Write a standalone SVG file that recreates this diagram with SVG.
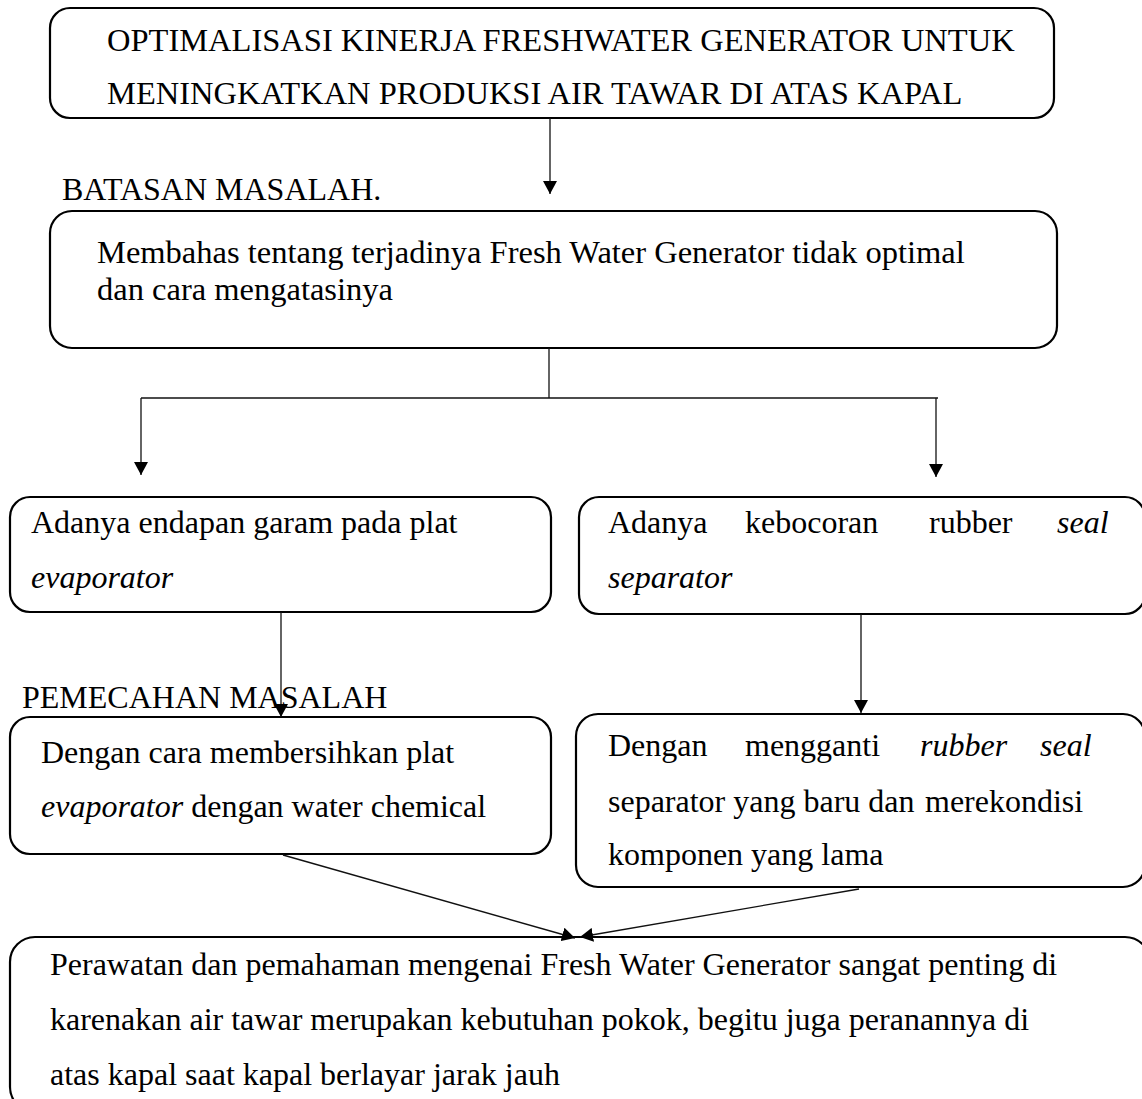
<svg xmlns="http://www.w3.org/2000/svg" width="1142" height="1099" viewBox="0 0 1142 1099">
<style>
.box{fill:#fff;stroke:#000;stroke-width:2.2}
.t{font-family:"Liberation Serif","Times New Roman",serif;font-size:32px;fill:#000}
.b{font-size:32.5px}
.i{font-style:italic}
.c{stroke:#111;stroke-width:1.3;fill:none}
</style>
<defs>
<marker id="ah" markerUnits="userSpaceOnUse" markerWidth="13" markerHeight="14" refX="13" refY="7" orient="auto">
<path d="M0,0 L13,7 L0,14 z" fill="#000"/>
</marker>
</defs>
<rect width="1142" height="1099" fill="#fff"/>
<g id="n1">
<rect class="box" x="50" y="8" width="1004" height="110" rx="20"/>
<text class="t b" x="107" y="51">OPTIMALISASI KINERJA FRESHWATER GENERATOR UNTUK</text>
<text class="t b" x="107" y="104">MENINGKATKAN PRODUKSI AIR TAWAR DI ATAS KAPAL</text>
</g>
<g id="lbl1"><text class="t" x="62" y="200">BATASAN MASALAH.</text></g>
<g id="n2">
<rect class="box" x="50" y="211" width="1007" height="137" rx="22"/>
<text class="t b" x="97" y="263">Membahas tentang terjadinya Fresh Water Generator tidak optimal</text>
<text class="t b" x="97" y="300">dan cara mengatasinya</text>
</g>
<g id="n3">
<rect class="box" x="10" y="497" width="541" height="115" rx="20"/>
<text class="t" x="31" y="533">Adanya endapan garam pada plat</text>
<text class="t i" x="31" y="588">evaporator</text>
</g>
<g id="n4">
<rect class="box" x="579" y="497" width="566" height="117" rx="20"/>
<text class="t" y="533"><tspan x="608">Adanya</tspan><tspan x="745">kebocoran</tspan><tspan x="929">rubber</tspan><tspan class="i" x="1057">seal</tspan></text>
<text class="t i" x="608" y="588">separator</text>
</g>
<g id="lbl2"><text class="t" x="22" y="708">PEMECAHAN MASALAH</text></g>
<g id="n5">
<rect class="box" x="10" y="717" width="541" height="137" rx="20"/>
<text class="t" x="41" y="763">Dengan cara membersihkan plat</text>
<text class="t" x="41" y="817"><tspan class="i">evaporator</tspan> dengan water chemical</text>
</g>
<g id="n6">
<rect class="box" x="576" y="714" width="569" height="173" rx="22"/>
<text class="t" y="756"><tspan x="608">Dengan</tspan><tspan x="745">mengganti</tspan><tspan class="i" x="920">rubber</tspan><tspan class="i" x="1040">seal</tspan></text>
<text class="t" y="812"><tspan x="608">separator yang baru dan</tspan><tspan x="925">merekondisi</tspan></text>
<text class="t" x="608" y="865">komponen yang lama</text>
</g>
<g id="n7">
<rect class="box" x="10" y="937" width="1140" height="175" rx="25"/>
<text class="t" x="50" y="975">Perawatan dan pemahaman mengenai Fresh Water Generator sangat penting di</text>
<text class="t" x="50" y="1030">karenakan air tawar merupakan kebutuhan pokok, begitu juga peranannya di</text>
<text class="t" x="50" y="1085">atas kapal saat kapal berlayar jarak jauh</text>
</g>
<g id="connectors">
<line class="c" x1="550" y1="118" x2="550" y2="194" marker-end="url(#ah)"/>
<line class="c" x1="549" y1="348" x2="549" y2="398"/>
<line class="c" x1="141" y1="398" x2="938" y2="398"/>
<line class="c" x1="141" y1="398" x2="141" y2="475" marker-end="url(#ah)"/>
<line class="c" x1="936" y1="398" x2="936" y2="477" marker-end="url(#ah)"/>
<line class="c" x1="281" y1="612" x2="281" y2="717" marker-end="url(#ah)"/>
<line class="c" x1="861" y1="614" x2="861" y2="713" marker-end="url(#ah)"/>
<line class="c" x1="283" y1="855" x2="575" y2="938" marker-end="url(#ah)"/>
<line class="c" x1="859" y1="889" x2="580" y2="937" marker-end="url(#ah)"/>
</g>
</svg>
